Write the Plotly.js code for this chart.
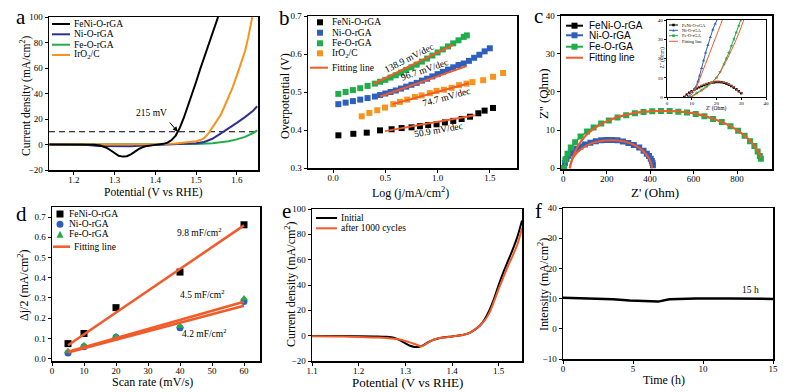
<!DOCTYPE html>
<html><head><meta charset="utf-8">
<script src="https://cdn.plot.ly/plotly-3.0.1.min.js"></script>
<style>body{margin:0;background:#fff}#chart{width:790px;height:392px}</style>
</head><body><div id="chart"></div><script>
// ================= DATA =================
// (a) LSV curves
const aFeNiX = [1.14,1.20,1.25,1.265,1.28,1.29,1.30,1.31,1.32,1.33,1.34,1.35,1.36,1.37,1.38,1.40,1.42,1.43,1.44,1.45,1.46,1.47,1.48,1.49,1.50,1.51,1.52,1.53,1.54,1.554];
const aFeNiY = [0,0,-0.2,-0.8,-2.5,-4.5,-7,-8.8,-9.5,-9.2,-7.8,-5.6,-3.5,-2.0,-1.1,-0.3,0.5,1.5,3.5,7,13,21,30,40,49,59,68,78,87,100];
const aNiX = [1.14,1.22,1.26,1.30,1.34,1.38,1.42,1.46,1.50,1.52,1.54,1.56,1.58,1.60,1.62,1.64,1.65];
const aNiY = [0,0,-1.2,-1.5,-1.3,-0.6,-0.1,0.2,1,2,4.5,8.5,12.5,17,21.5,26.5,30];
const aFeX = [1.14,1.30,1.40,1.46,1.50,1.54,1.58,1.60,1.62,1.64,1.65];
const aFeY = [0,0,0,0.1,0.3,1,2.5,4,6,9,11];
const aIrX = [1.14,1.30,1.40,1.45,1.48,1.50,1.51,1.52,1.53,1.54,1.55,1.56,1.57,1.58,1.59,1.60,1.61,1.62,1.628,1.632,1.629,1.634,1.638];
const aIrY = [0,0,0.2,0.8,1.5,2.5,3.5,5,8.5,13,18,23,30,37,45,54,63,73,84,90,88,93,100];
const aRefX = [1.139,1.652];
const aRefY = [10,10];

// (b) Tafel plots
const bFeNiX = [0.051,0.194,0.322,0.449,0.56,0.656,0.751,0.831,0.91,0.99,1.07,1.15,1.23,1.31,1.39,1.45,1.53];
const bFeNiY = [0.386,0.390,0.393,0.399,0.402,0.405,0.407,0.410,0.413,0.415,0.420,0.424,0.429,0.435,0.444,0.451,0.458];
const bNiX = [0.05,0.12,0.19,0.26,0.33,0.40,0.45,0.50,0.55,0.60,0.65,0.70,0.75,0.80,0.85,0.90,0.95,1.00,1.05,1.10,1.15,1.20,1.25,1.30,1.35,1.40,1.45,1.50];
const bNiY = [0.468,0.472,0.476,0.480,0.484,0.488,0.492,0.496,0.500,0.504,0.509,0.514,0.519,0.524,0.530,0.535,0.541,0.547,0.553,0.559,0.565,0.571,0.575,0.582,0.590,0.598,0.607,0.615];
const bFeX = [0.05,0.12,0.19,0.26,0.33,0.40,0.45,0.50,0.55,0.60,0.65,0.70,0.75,0.80,0.85,0.90,0.95,1.00,1.05,1.10,1.15,1.20,1.25,1.28];
const bFeY = [0.495,0.500,0.505,0.510,0.516,0.522,0.527,0.532,0.538,0.544,0.551,0.558,0.565,0.572,0.580,0.588,0.596,0.604,0.612,0.620,0.628,0.636,0.645,0.649];
const bIrX = [0.274,0.347,0.423,0.497,0.576,0.640,0.710,0.783,0.847,0.926,0.990,1.060,1.134,1.206,1.277,1.334,1.436,1.531,1.627];
const bIrY = [0.436,0.445,0.452,0.459,0.468,0.474,0.480,0.487,0.491,0.497,0.503,0.506,0.511,0.518,0.522,0.526,0.531,0.540,0.550];
const bFitFeX = [0.385,1.15],  bFitFeY = [0.521,0.624];
const bFitNiX = [0.45,1.277],  bFitNiY = [0.488,0.568];
const bFitIrX = [0.57,1.30],   bFitIrY = [0.468,0.523];
const bFitFeNiX = [0.497,1.356], bFitFeNiY = [0.397,0.439];
const bSlopes = ['138.9 mV/dec','96.7 mV/dec','74.7 mV/dec','50.9 mV/dec'];

// (c) Nyquist plots
const cNiX = [3,8,15,25,35,48,62,80,100,125,150,175,200,225,250,275,300,325,350,370,385,395,403,408,411,413];
const cNiY = [0,1.4,2.4,3.3,4.0,4.6,5.1,5.7,6.2,6.7,7.1,7.3,7.4,7.4,7.3,7.0,6.6,6.1,5.4,4.6,3.8,3.2,2.5,1.9,1.4,0.8];
const cFeX = [5,10,20,35,55,80,110,140,175,210,250,290,330,370,410,450,490,530,570,610,650,690,730,770,805,835,860,880,895,905,910];
const cFeY = [0,2.2,3.8,5.4,6.8,8.3,9.6,10.7,11.7,12.5,13.3,13.9,14.4,14.7,14.9,15.0,15.0,14.8,14.6,14.2,13.6,12.9,12.1,11.0,9.8,8.5,7.1,5.8,4.4,3.2,2.5];
const cFitNiX = [30,40,60,80,100,130,160,190,220,250,280,310,340,360,380,395,405,410];
const cFitNiY = [0,2.1,3.8,4.9,5.7,6.5,7.0,7.25,7.3,7.25,7.0,6.5,5.7,4.9,3.8,2.6,1.3,0];
const cFitFeX = [30,45,70,100,140,190,250,320,400,470,550,620,690,750,800,840,870,890,905,912];
const cFitFeY = [0,3,6,8.3,10.3,12,13.4,14.4,14.9,15.0,14.8,14.2,13.0,11.6,10,8.3,6.6,5,3.6,2.8];
// (c) inset
const iFeNiX = [7,8,9,10,11,12,13,14,15,16,17,18,19,20,21,22,23,24,25,26,27,28,29,30];
const iFeNiY = [0,1.2,2.2,3,3.8,4.5,5.1,5.7,6.2,6.7,7.1,7.4,7.6,7.8,7.8,7.7,7.4,7.0,6.4,5.7,4.9,4.0,3.0,2.0];
const iNiX = [8.5,10,11.5,12.5,13.2,14,14.8,15.6,16.5,17.5,18.5,19.5,20.5];
const iNiY = [0,2.5,5,8,11,15,19,23,27,31,35,38,41];
const iFeX = [9.5,12,14,16,18,20,21.5,23,24,25,26,27,28,29,29.8];
const iFeY = [0,2,3.5,5.5,7.5,10,13,17,20,23,26.5,30,33.5,37,40];
const iFitNiX = [9,11,12.5,14,15.5,17,18.5,20,21.5,22.5];
const iFitNiY = [0,3,7,12,17,22,27,32,37,40.5];
const iFitFeX = [10,13,16,19,21,23,25,27,29,31];
const iFitFeY = [0,2.5,5,8.5,12,16.5,21.5,27,33,40];
const iFitFeNiX = [7,9,12,15,18,21,24,27,29,30.5];
const iFitFeNiY = [0,2,4.8,6.5,7.6,7.9,7.2,5,3,1.8];

// (d) double-layer capacitance
const dScan = [5,10,20,40,60];
const dFeNi = [0.074,0.124,0.252,0.428,0.662];
const dNi = [0.028,0.058,0.105,0.152,0.283];
const dFe = [0.036,0.066,0.110,0.160,0.297];
const dFitX = [5,60];
const dFitFeNi = [0.066,0.659];
const dFitNi = [0.030,0.261];
const dFitFe = [0.034,0.281];
const dCdl = ['9.8 mF/cm<sup>2</sup>','4.5 mF/cm<sup>2</sup>','4.2 mF/cm<sup>2</sup>'];

// (e) stability LSV
const eInitX = [1.10,1.15,1.20,1.24,1.26,1.27,1.28,1.29,1.30,1.31,1.32,1.325,1.33,1.34,1.35,1.36,1.37,1.38,1.40,1.42,1.43,1.44,1.45,1.46,1.47,1.48,1.49,1.50,1.51,1.52,1.53,1.54,1.55];
const eInitY = [-0.3,-0.3,-0.4,-0.6,-0.9,-1.3,-2.2,-4,-6,-8,-8.9,-9,-8.8,-7.2,-5,-3.3,-2.2,-1.5,-0.6,0.3,1.2,2.6,5,8,13,20,29,40,50,59,68,78,91];
const eAftX = [1.10,1.15,1.20,1.24,1.27,1.29,1.30,1.31,1.32,1.33,1.335,1.34,1.35,1.36,1.37,1.38,1.40,1.42,1.43,1.44,1.45,1.46,1.47,1.48,1.49,1.50,1.51,1.52,1.53,1.54,1.55];
const eAftY = [-0.4,-0.6,-1.0,-1.5,-2.2,-3.2,-4.2,-5.3,-6.6,-8.0,-8.4,-7.5,-5.2,-3.2,-2.2,-1.6,-0.6,0.3,1.2,2.6,5,8,12,18,27,37,46,55,63,72,85];

// (f) chronoamperometry
const fTime = [0,1.19,2.4,3.57,4.76,5.95,6.8,7.6,8.5,9.5,11.9,13.5,15];
const fCur = [10.3,10.2,10.0,9.8,9.35,9.2,9.0,9.8,9.9,10.0,10.0,10.0,9.9];

// axis titles
const titles = {
  a: ['Potential (V vs RHE)', 'Current density (mA/cm<sup>2</sup>)'],
  b: ['Log (j/mA/cm<sup>2</sup>)', 'Overpotential (V)'],
  c: ["Z' (Ohm)", "Z'' (Ohm)"],
  inset: ["Z' (Ohm)", "Z'' (Ohm)"],
  d: ['Scan rate (mV/s)', 'Δj/2 (mA/cm<sup>2</sup>)'],
  e: ['Potential (V vs RHE)', 'Current density (mA/cm<sup>2</sup>)'],
  f: ['Time (h)', 'Intensity (mA/cm<sup>2</sup>)']
};

// ================= STYLE / LAYOUT =================
const W = 790, H = 392;
const px = x => x / W, py = y => 1 - y / H;
const serif = 'Liberation Serif, Times New Roman, serif';
const sans = 'Liberation Sans, Arial, sans-serif';
const K = '#000000', NAVY = '#2e3192', BLUE = '#2f5fbd', GREEN = '#22ad4c', ORANGE = '#f7941d', RED = '#f15a29';

function axis(d0, d1, anchor, range, dtick, extra) {
  return Object.assign({
    domain: [d0, d1], anchor: anchor, range: range, dtick: dtick,
    showline: true, mirror: true, linecolor: K, linewidth: 1.5,
    ticks: 'outside', ticklen: 3, tickwidth: 1, tickcolor: K,
    showgrid: false, zeroline: false,
    tickfont: {family: serif, size: 9, color: K}
  }, extra || {});
}
const xs = {ticklabelstandoff: -2};
const smallAx = {linewidth: 1.2, ticklen: 2, tickfont: {family: serif, size: 5, color: K}};

const layout = {
  width: W, height: H, margin: {l: 0, r: 0, t: 0, b: 0},
  paper_bgcolor: '#fff', plot_bgcolor: 'rgba(0,0,0,0)', showlegend: false,
  xaxis:  axis(px(49), px(258), 'y',  [1.139, 1.652], 0.1, Object.assign({tick0: 1.2}, xs)),
  yaxis:  axis(py(170), py(17), 'x',  [-20, 100], 20),
  xaxis2: axis(px(308), px(517), 'y2', [-0.24, 1.76], 0.5, Object.assign({tickformat: '.1f', tick0: 0}, xs)),
  yaxis2: axis(py(168), py(16), 'x2', [0.3, 0.7], 0.1, {tickformat: '.1f'}),
  xaxis3: axis(px(561), px(772), 'y3', [-10, 961], 200, Object.assign({tick0: 0}, xs)),
  yaxis3: axis(py(169), py(15.5), 'x3', [-0.2, 40], 10),
  xaxis4: axis(px(667), px(766), 'y4', [0, 40], 10, Object.assign({ticklabelstandoff: -1}, smallAx)),
  yaxis4: axis(py(97), py(20), 'x4', [0, 40], 10, smallAx),
  xaxis5: axis(px(52), px(260), 'y5', [0, 65], 10, xs),
  yaxis5: axis(py(361), py(207), 'x5', [-0.012, 0.75], 0.1, {tickformat: '.1f', tick0: 0}),
  xaxis6: axis(px(312), px(522), 'y6', [1.1, 1.55], 0.1, Object.assign({tick0: 1.1}, xs)),
  yaxis6: axis(py(361), py(209), 'x6', [-20, 100], 20),
  xaxis7: axis(px(563), px(773), 'y7', [0, 15], 5, xs),
  yaxis7: axis(py(359), py(208), 'x7', [-10, 40], 10),
  shapes: [], annotations: []
};

// axis titles as paper-positioned text
function T(text, x, y, size, angle) {
  layout.annotations.push({xref:'paper', yref:'paper', x:px(x), y:py(y), text:text, showarrow:false,
    xanchor:'center', yanchor:'middle', textangle:angle || 0, font:{family:serif, size:size, color:K}});
}
T(titles.a[0], 153, 192, 11.5); T(titles.a[1], 25, 96, 11.5, -90);
T(titles.b[0], 410, 192, 12);   T(titles.b[1], 285, 96, 12, -90);
T(titles.c[0], 655, 192, 13);   T(titles.c[1], 543, 94, 13, -90);
T(titles.inset[0], 716, 108.5, 5.5); T(titles.inset[1], 661.5, 58, 5.5, -90);
T(titles.d[0], 152, 382, 12);   T(titles.d[1], 23, 285, 12, -90);
T(titles.e[0], 407, 382.5, 13); T(titles.e[1], 290, 284, 12, -90);
T(titles.f[0], 664, 380, 12);   T(titles.f[1], 543, 285, 12, -90);

// panel letters
[['a',21,17],['b',284,18],['c',538,16],['d',21,214],['e',286,211],['f',538,211]].forEach(([t,x,y]) => {
  layout.annotations.push({xref:'paper', yref:'paper', x:px(x), y:py(y), text:t, showarrow:false,
    xanchor:'center', yanchor:'middle', font:{family:serif, size:21, color:K}});
});

// compact legends (layout shapes + text)
function legendBlock(items, lx0, lx1, tx, ys, font, lw) {
  items.forEach((it, i) => {
    const y = ys[i];
    if (it.line) layout.shapes.push({type:'line', xref:'paper', yref:'paper', x0:px(lx0), x1:px(lx1), y0:py(y), y1:py(y), line:{color:it.color, width:lw}});
    if (it.sym) {
      const cx = (lx0 + lx1) / 2, s = it.size || 6;
      if (it.sym === 'square') layout.shapes.push({type:'rect', xref:'paper', yref:'paper', x0:px(cx-s/2), x1:px(cx+s/2), y0:py(y+s/2), y1:py(y-s/2), fillcolor:it.color, line:{width:0}});
      else if (it.sym === 'circle') layout.shapes.push({type:'circle', xref:'paper', yref:'paper', x0:px(cx-s/2), x1:px(cx+s/2), y0:py(y+s/2), y1:py(y-s/2), fillcolor:it.color, line:{width:0}});
      else if (it.sym === 'triangle') layout.shapes.push({type:'path', xref:'paper', yref:'paper', path:`M${px(cx-s/2)},${py(y+s/2)} L${px(cx+s/2)},${py(y+s/2)} L${px(cx)},${py(y-s/2)} Z`, fillcolor:it.color, line:{width:0}});
    }
    layout.annotations.push({xref:'paper', yref:'paper', x:px(tx), y:py(y), text:it.name, showarrow:false, xanchor:'left', yanchor:'middle', font:font});
  });
}
const lf = {family: serif, size: 9.5, color: K};
legendBlock([{name:'FeNi-O-rGA',color:K,line:1},{name:'Ni-O-rGA',color:NAVY,line:1},{name:'Fe-O-rGA',color:GREEN,line:1},{name:'IrO<sub>2</sub>/C',color:ORANGE,line:1}],
  52, 70, 72, [24, 34.3, 44.7, 55], lf, 2);
legendBlock([{name:'FeNi-O-rGA',color:K,sym:'square'},{name:'Ni-O-rGA',color:BLUE,sym:'square'},{name:'Fe-O-rGA',color:GREEN,sym:'square'},{name:'IrO<sub>2</sub>/C',color:ORANGE,sym:'square'}],
  317, 323, 330, [22.3, 32.7, 43.3, 53.3], lf, 2);
legendBlock([{name:'Fitting line',color:RED,line:1}], 310, 328, 330, [67.7], lf, 2);
legendBlock([{name:'FeNi-O-rGA',color:K,line:1,sym:'square'},{name:'Ni-O-rGA',color:BLUE,line:1,sym:'square'},{name:'Fe-O-rGA',color:GREEN,line:1,sym:'square'},{name:'Fitting line',color:RED,line:1}],
  566, 583, 587, [25.7, 35.3, 46.7, 57.7], {family: sans, size: 10, color: K}, 2);
legendBlock([{name:'FeNi-O-rGA',color:K,line:1,sym:'square',size:2.5},{name:'Ni-O-rGA',color:BLUE,line:1,sym:'triangle',size:2.5},{name:'Fe-O-rGA',color:GREEN,line:1,sym:'square',size:2.5},{name:'Fitting line',color:RED,line:1}],
  669, 678, 679.5, [25, 30.3, 35.7, 41.3], {family: serif, size: 4.5, color: K}, 1);
legendBlock([{name:'FeNi-O-rGA',color:K,sym:'square',size:7},{name:'Ni-O-rGA',color:BLUE,sym:'circle',size:7},{name:'Fe-O-rGA',color:GREEN,sym:'triangle',size:7}],
  57, 63, 67, [214, 224.3, 234.3], lf, 2);
legendBlock([{name:'Fitting line',color:RED,line:1}], 53, 70, 72, [246.7], lf, 2.5);
legendBlock([{name:'Initial',color:K,line:1},{name:'after 1000 cycles',color:RED,line:1}],
  316, 337, 339, [218, 228.3], lf, 2);

// panel a annotations
layout.annotations.push({xref:'x', yref:'y', x:1.39, y:24.5, text:'215 mV', showarrow:false, font:{family:serif, size:9.5, color:K}});
layout.annotations.push({xref:'x', yref:'y', x:1.455, y:10, ax:1.428, ay:20, axref:'x', ayref:'y', text:' ', showarrow:true, arrowhead:2, arrowsize:1, arrowwidth:1, arrowcolor:K, standoff:0, startstandoff:0});
// panel b slope labels
[[0.73,0.590,-27],[0.87,0.558,-19],[1.09,0.486,-15],[1.01,0.399,-10]].forEach(([x,y,a],i) => {
  layout.annotations.push({xref:'x2', yref:'y2', x:x, y:y, text:bSlopes[i], textangle:a, showarrow:false, font:{family:serif, size:9.5, color:K}});
});
// panel d labels
[[46,0.626],[47,0.318],[47.5,0.128]].forEach(([x,y],i) => {
  layout.annotations.push({xref:'x5', yref:'y5', x:x, y:y, text:dCdl[i], showarrow:false, font:{family:serif, size:9.5, color:K}});
});
// panel f label
layout.annotations.push({xref:'x7', yref:'y7', x:13.4, y:13, text:'15 h', showarrow:false, font:{family:serif, size:9.5, color:K}});

// ================= TRACES =================
const L = (x, y, xa, ya, color, width, extra) => Object.assign({type:'scatter', mode:'lines', x:x, y:y, xaxis:xa, yaxis:ya, line:{color:color, width:width}, hoverinfo:'skip'}, extra || {});
const M = (x, y, xa, ya, color, sym, size) => ({type:'scatter', mode:'markers', x:x, y:y, xaxis:xa, yaxis:ya, marker:{color:color, symbol:sym, size:size}, hoverinfo:'skip'});

const data = [
  // a
  L(aRefX, aRefY, 'x', 'y', K, 1.2, {line:{color:K, width:1.2, dash:'6px,4px'}}),
  L(aFeX, aFeY, 'x', 'y', GREEN, 2),
  L(aNiX, aNiY, 'x', 'y', NAVY, 2),
  L(aIrX, aIrY, 'x', 'y', ORANGE, 2),
  L(aFeNiX, aFeNiY, 'x', 'y', K, 2),
  // b
  M(bFeNiX, bFeNiY, 'x2', 'y2', K, 'square', 6),
  M(bNiX, bNiY, 'x2', 'y2', BLUE, 'square', 6),
  M(bFeX, bFeY, 'x2', 'y2', GREEN, 'square', 6),
  M(bIrX, bIrY, 'x2', 'y2', ORANGE, 'square', 6),
  L(bFitFeX, bFitFeY, 'x2', 'y2', RED, 2),
  L(bFitNiX, bFitNiY, 'x2', 'y2', RED, 2),
  L(bFitIrX, bFitIrY, 'x2', 'y2', RED, 2),
  L(bFitFeNiX, bFitFeNiY, 'x2', 'y2', RED, 2),
  // c
  L(cNiX, cNiY, 'x3', 'y3', BLUE, 1.5, {mode:'lines+markers', marker:{color:BLUE, symbol:'square', size:6}}),
  L(cFeX, cFeY, 'x3', 'y3', GREEN, 1.5, {mode:'lines+markers', marker:{color:GREEN, symbol:'square', size:6}}),
  L(cFitNiX, cFitNiY, 'x3', 'y3', RED, 2, {line:{color:RED, width:2, shape:'spline'}}),
  L(cFitFeX, cFitFeY, 'x3', 'y3', RED, 2, {line:{color:RED, width:2, shape:'spline'}}),
  // inset
  L(iFeNiX, iFeNiY, 'x4', 'y4', K, 1, {mode:'lines+markers', marker:{color:K, symbol:'square', size:2.5}}),
  L(iNiX, iNiY, 'x4', 'y4', BLUE, 1, {mode:'lines+markers', marker:{color:BLUE, symbol:'triangle-up', size:3}}),
  L(iFeX, iFeY, 'x4', 'y4', GREEN, 1, {mode:'lines+markers', marker:{color:GREEN, symbol:'star', size:3}}),
  L(iFitNiX, iFitNiY, 'x4', 'y4', RED, 1, {line:{color:RED, width:1, shape:'spline'}}),
  L(iFitFeX, iFitFeY, 'x4', 'y4', RED, 1, {line:{color:RED, width:1, shape:'spline'}}),
  L(iFitFeNiX, iFitFeNiY, 'x4', 'y4', RED, 1, {line:{color:RED, width:1, shape:'spline'}}),
  // d
  M(dScan, dFeNi, 'x5', 'y5', K, 'square', 7),
  M(dScan, dNi, 'x5', 'y5', BLUE, 'circle', 7),
  M(dScan, dFe, 'x5', 'y5', GREEN, 'triangle-up', 7),
  L(dFitX, dFitFeNi, 'x5', 'y5', RED, 2.5),
  L(dFitX, dFitNi, 'x5', 'y5', RED, 2.5),
  L(dFitX, dFitFe, 'x5', 'y5', RED, 2.5),
  // e
  L(eInitX, eInitY, 'x6', 'y6', K, 2, {line:{color:K, width:2, shape:'spline'}}),
  L(eAftX, eAftY, 'x6', 'y6', RED, 2, {line:{color:RED, width:2, shape:'spline'}}),
  // f
  L(fTime, fCur, 'x7', 'y7', K, 2.5)
];

Plotly.newPlot('chart', data, layout, {displayModeBar:false, staticPlot:true});
</script></body></html>
